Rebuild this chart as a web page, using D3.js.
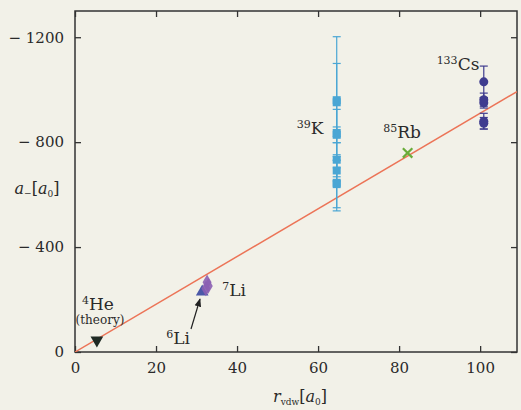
<!DOCTYPE html>
<html>
<head>
<meta charset="utf-8">
<script src="https://cdn.jsdelivr.net/npm/d3@7"></script>
<style>
    body { margin: 0; background: #f2f1e8; }
    svg { display: block; }
</style>
</head>
<body>
<div id="chart"></div>
<script>

// data (a- in units of a0, r_vdw in a0)
const slope = -9.1;
const xTicks = [0, 20, 40, 60, 80, 100];
const yTicks = [0, -400, -800, -1200];

const kX = 64.6;
const kVals = [-952, -960, -835, -828, -733, -692, -645, -640];
const kErrs = [250, 140, 90, 30, 65, 40, 107, 90];

const csX = 100.9;
const csVals = [-1030, -962, -950, -880, -872];
const csErrs = [60, 25, 20, 30, 22];

const rbPoint = [82.1, -759];
const hePoint = [5.4, -45];
const li7Points = [[32.6, -266], [32.9, -252], [32.3, -242]];
const li6Point = [31.4, -229];

const labels = [
    {sup: "39", main: "K", x: 310, y: 134},
    {sup: "85", main: "Rb", x: 402, y: 138},
    {sup: "133", main: "Cs", x: 458, y: 70},
    {sup: "7", main: "Li", x: 234, y: 296},
    {sup: "6", main: "Li", x: 178, y: 344},
    {sup: "4", main: "He", x: 98, y: 310}
];

const margin = {top: 11, right: 4, bottom: 58, left: 75};
const W = 521, H = 410;
const width = W - margin.left - margin.right;
const height = H - margin.top - margin.bottom;

const svg = d3.select("#chart").append("svg")
    .attr("width", W)
    .attr("height", H)
    .style("font-family", "DejaVu Serif, serif");

svg.append("rect").attr("width", W).attr("height", H).attr("fill", "#f2f1e8");

const g = svg.append("g")
    .attr("transform", `translate(${margin.left},${margin.top})`);

const x = d3.scaleLinear().domain([0, 109.1]).range([0, width]);
const y = d3.scaleLinear().domain([0, -1300]).range([height, 0]);

// clip for the fit line
svg.append("clipPath").attr("id", "clip")
    .append("rect").attr("width", width).attr("height", height);

// axes: ticks inward on all four sides
const fmt = d3.format("d");
const tickCol = "#333";

g.append("g").attr("transform", `translate(0,${height})`)
    .call(d3.axisBottom(x).tickValues(xTicks).tickSizeInner(-6).tickSizeOuter(0).tickPadding(10).tickFormat(fmt));
g.append("g")
    .call(d3.axisTop(x).tickValues(xTicks).tickSizeInner(-6).tickSizeOuter(0).tickFormat(""));
g.append("g")
    .call(d3.axisLeft(y).tickValues(yTicks).tickSizeInner(-6).tickSizeOuter(0).tickPadding(11)
        .tickFormat(d => d === 0 ? "0" : "\u2212 " + Math.abs(d)));
g.append("g").attr("transform", `translate(${width},0)`)
    .call(d3.axisRight(y).tickValues(yTicks).tickSizeInner(-6).tickSizeOuter(0).tickFormat(""));

g.selectAll(".domain").remove();
g.selectAll(".tick line").attr("stroke", tickCol).attr("stroke-width", 1.3);
g.selectAll(".tick text").attr("fill", "#2a2a2a").style("font-size", "15px").style("font-family", "DejaVu Serif, serif");

g.append("rect")
    .attr("width", width).attr("height", height)
    .attr("fill", "none").attr("stroke", tickCol).attr("stroke-width", 1.5);

// universal line a- = -9.1 r_vdw
g.append("line")
    .attr("clip-path", "url(#clip)")
    .attr("x1", x(0)).attr("y1", y(0))
    .attr("x2", x(109.1)).attr("y2", y(slope * 109.1))
    .attr("stroke", "#ec7457").attr("stroke-width", 1.5);

// error bar helper
function errorBars(xv, vals, errs, color) {
    const eg = g.append("g");
    vals.forEach((v, i) => {
        eg.append("line")
            .attr("x1", x(xv)).attr("x2", x(xv))
            .attr("y1", y(v - errs[i])).attr("y2", y(v + errs[i]))
            .attr("stroke", color).attr("stroke-width", 1.2);
        [v - errs[i], v + errs[i]].forEach(e => {
            eg.append("line")
                .attr("x1", x(xv) - 4).attr("x2", x(xv) + 4)
                .attr("y1", y(e)).attr("y2", y(e))
                .attr("stroke", color).attr("stroke-width", 1.2);
        });
    });
}

// 39K
const kCol = "#4aa6d4";
errorBars(kX, kVals, kErrs, kCol);
g.selectAll(".k").data(kVals).enter().append("rect")
    .attr("class", "k")
    .attr("x", x(kX) - 4).attr("y", d => y(d) - 4)
    .attr("width", 8).attr("height", 8)
    .attr("fill", kCol);

// 133Cs
const csCol = "#3f3c8f";
errorBars(csX, csVals, csErrs, csCol);
g.selectAll(".cs").data(csVals).enter().append("circle")
    .attr("class", "cs")
    .attr("cx", x(csX)).attr("cy", d => y(d))
    .attr("r", 4.5)
    .attr("fill", csCol);

// 85Rb cross
const rbSym = d3.symbol().type(d3.symbolX).size(60);
g.append("path")
    .attr("d", rbSym())
    .attr("transform", `translate(${x(rbPoint[0])},${y(rbPoint[1])})`)
    .attr("stroke", "#6aac3a").attr("stroke-width", 2.2).attr("fill", "none");

// 4He theory (down triangle)
g.append("path")
    .attr("d", d3.symbol().type(d3.symbolTriangle).size(70)())
    .attr("transform", `translate(${x(hePoint[0])},${y(hePoint[1])}) rotate(180)`)
    .attr("fill", "#1f2a24");

// 6Li triangle
g.append("path")
    .attr("d", d3.symbol().type(d3.symbolTriangle).size(70)())
    .attr("transform", `translate(${x(li6Point[0])},${y(li6Point[1])})`)
    .attr("fill", "#4b58a8");

// 7Li diamonds
g.selectAll(".li7").data(li7Points).enter().append("path")
    .attr("class", "li7")
    .attr("d", d3.symbol().type(d3.symbolDiamond).size(70)())
    .attr("transform", d => `translate(${x(d[0])},${y(d[1])})`)
    .attr("fill", "#8b5fb3").attr("fill-opacity", 0.9);

// arrow to 6Li
svg.append("defs").append("marker")
    .attr("id", "arr").attr("viewBox", "0 0 10 10")
    .attr("refX", 9).attr("refY", 5)
    .attr("markerWidth", 7).attr("markerHeight", 7)
    .attr("orient", "auto")
    .append("path").attr("d", "M0,1 L10,5 L0,9 z").attr("fill", "#222");

svg.append("line")
    .attr("x1", 191).attr("y1", 329)
    .attr("x2", 200).attr("y2", 299)
    .attr("stroke", "#222").attr("stroke-width", 1.2)
    .attr("marker-end", "url(#arr)");

// isotope labels
labels.forEach(l => {
    const t = svg.append("text")
        .attr("x", l.x).attr("y", l.y)
        .attr("text-anchor", "middle")
        .attr("fill", "#2a2a2a")
        .style("font-size", "17px");
    t.append("tspan").text(l.sup).style("font-size", "11px").attr("dy", -6);
    t.append("tspan").text(l.main).attr("dy", 6);
});

svg.append("text")
    .attr("x", 100).attr("y", 324)
    .attr("text-anchor", "middle")
    .attr("fill", "#2a2a2a")
    .style("font-size", "12px")
    .text("(theory)");

// axis titles
const yt = svg.append("text")
    .attr("x", 37).attr("y", 194)
    .attr("text-anchor", "middle")
    .attr("fill", "#2a2a2a")
    .style("font-size", "16px");
yt.append("tspan").text("a").style("font-style", "italic");
yt.append("tspan").text("−").style("font-size", "9px").attr("dy", 2);
yt.append("tspan").text("[").attr("dy", -2);
yt.append("tspan").text("a").style("font-style", "italic");
yt.append("tspan").text("0").style("font-size", "9px").attr("dy", 3);
yt.append("tspan").text("]").attr("dy", -3);

const xt = svg.append("text")
    .attr("x", 300).attr("y", 402)
    .attr("text-anchor", "middle")
    .attr("fill", "#2a2a2a")
    .style("font-size", "16px");
xt.append("tspan").text("r").style("font-style", "italic");
xt.append("tspan").text("vdw").style("font-size", "9px").attr("dy", 3);
xt.append("tspan").text("[").attr("dy", -3);
xt.append("tspan").text("a").style("font-style", "italic");
xt.append("tspan").text("0").style("font-size", "9px").attr("dy", 3);
xt.append("tspan").text("]").attr("dy", -3);

</script>
</body>
</html>
